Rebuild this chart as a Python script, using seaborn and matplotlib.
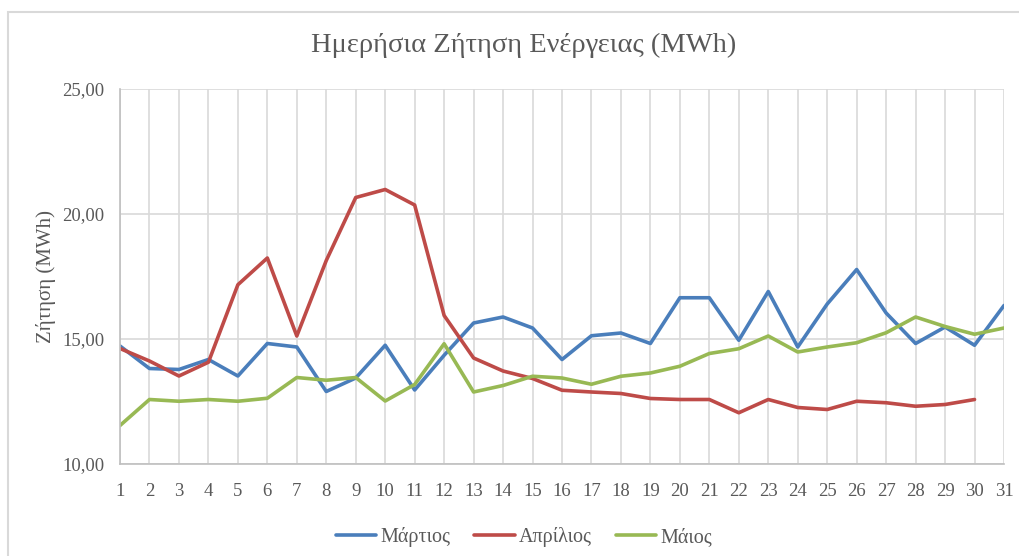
import numpy as np
import pandas as pd
import matplotlib
matplotlib.use("Agg")
import matplotlib.pyplot as plt
from matplotlib.patches import Rectangle
import seaborn as sns

days = list(range(1, 32))

march = [14.72, 13.82, 13.78, 14.18, 13.52, 14.82, 14.68, 12.90, 13.44, 14.75,
         12.96, 14.35, 15.64, 15.88, 15.44, 14.18, 15.13, 15.24, 14.82, 16.65,
         16.65, 14.95, 16.90, 14.68, 16.40, 17.78, 16.04, 14.82, 15.48, 14.75,
         16.34]

april = [14.62, 14.12, 13.52, 14.07, 17.17, 18.24, 15.12, 18.14, 20.66, 20.98,
         20.36, 15.94, 14.24, 13.72, 13.42, 12.95, 12.88, 12.82, 12.62, 12.58,
         12.58, 12.05, 12.58, 12.26, 12.18, 12.51, 12.45, 12.31, 12.38, 12.58]

may = [11.54, 12.58, 12.51, 12.58, 12.51, 12.63, 13.46, 13.35, 13.46, 12.52,
       13.18, 14.81, 12.88, 13.14, 13.51, 13.44, 13.19, 13.51, 13.64, 13.91,
       14.42, 14.61, 15.12, 14.48, 14.68, 14.85, 15.25, 15.88, 15.50, 15.19,
       15.44]

months = ["Μάρτιος", "Απρίλιος", "Μάιος"]
colors = {"Μάρτιος": "#4a7ebb", "Απρίλιος": "#be4b48", "Μάιος": "#98b954"}

y_ticks = [10, 15, 20, 25]

df = pd.concat(
    [
        pd.DataFrame({"day": days[:len(vals)], "value": vals, "month": m})
        for m, vals in zip(months, [march, april, may])
    ],
    ignore_index=True,
)

sns.set_theme(style="white")
plt.rcParams["font.family"] = ["Liberation Serif", "DejaVu Serif"]
text_color = "#595959"

fig = plt.figure(figsize=(10.2, 5.56), dpi=100)
ax = fig.add_axes([120 / 1020, 92 / 556, 884 / 1020, 375 / 556])

sns.lineplot(data=df, x="day", y="value", hue="month", hue_order=months,
             palette=colors, linewidth=2.6, errorbar=None, ax=ax, legend=True)

ax.set_xlim(1, 31)
ax.set_ylim(10, 25)
ax.set_xticks(days)
ax.set_xticklabels([str(d) for d in days])
ax.set_yticks(y_ticks)
ax.set_yticklabels([f"{v:.2f}".replace(".", ",") for v in y_ticks])
ax.grid(True, color="#d9d9d9", linewidth=1.2)
ax.set_axisbelow(True)
for side in ["top", "right"]:
    ax.spines[side].set_visible(False)
for side in ["left", "bottom"]:
    ax.spines[side].set_color("#bfbfbf")
    ax.spines[side].set_linewidth(1.2)
ax.tick_params(axis="both", length=0, labelsize=13.5, colors=text_color)
ax.tick_params(axis="x", pad=14)
ax.tick_params(axis="y", pad=11)
ax.set_xlabel("")
ax.set_ylabel("Ζήτηση (MWh)", fontsize=15, color=text_color, labelpad=5)

handles, labels = ax.get_legend_handles_labels()
ax.get_legend().remove()
fig.legend(handles, labels, loc="center", bbox_to_anchor=(524 / 1020, 1 - 537 / 556),
           ncol=3, frameon=False, fontsize=14.5, labelcolor=text_color,
           handlelength=2.0, handletextpad=0.2, columnspacing=1.2)

fig.text(524 / 1020, 1 - 45 / 556, "Ημερήσια Ζήτηση Ενέργειας (MWh)",
         ha="center", va="center", fontsize=20.5, color=text_color)

fig.patches.append(Rectangle((8 / 1020, -0.1), 1.2, 1 - 12 / 556 + 0.1,
                             transform=fig.transFigure, fill=False,
                             edgecolor="#d9d9d9", linewidth=1.5))

fig.savefig("out.png", dpi=100)
